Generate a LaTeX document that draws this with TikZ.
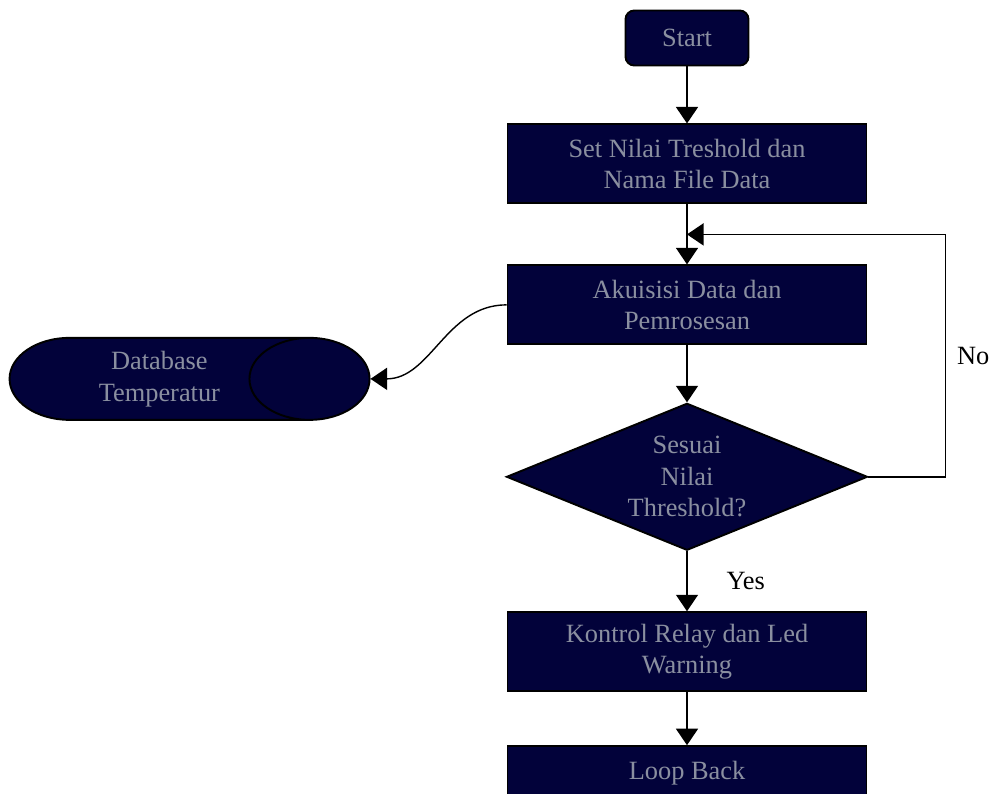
\documentclass[tikz,border=0pt]{standalone}
\usepackage{fontspec}
\setmainfont{Liberation Serif}
\usetikzlibrary{arrows.meta,positioning,shapes.geometric,calc}
\definecolor{navy}{HTML}{02023A}
\definecolor{teks}{HTML}{8A8FA0}

\begin{document}
\begin{tikzpicture}[
  node distance=12mm,
  box/.style={draw=black,fill=navy,line width=1.1pt,minimum width=7.18cm,minimum height=1.58cm,
              inner sep=2pt,align=center,text=teks,font=\fontsize{15}{18}\selectfont},
  arr/.style={-{Triangle[length=3.3mm,width=4.4mm]},draw=black,line width=0.8pt},
  lbl/.style={font=\fontsize{15}{18}\selectfont}
]
\useasboundingbox (0,0) rectangle (19.94,-15.88);
\node[box,rounded corners=5pt,minimum width=2.46cm,minimum height=1.1cm] (start) at (13.74,-0.76) {Start};
\node[box,below=11.4mm of start] (set) {Set Nilai Treshold dan\\Nama File Data};
\node[box,below=12mm of set] (akuisisi) {Akuisisi Data dan\\Pemrosesan};
\node[box,diamond,aspect=2.45,inner sep=0pt,minimum width=7.22cm,minimum height=2.94cm,
      below=11.4mm of akuisisi] (sesuai) {Sesuai\\Nilai\\Threshold?};
\node[box,below=12mm of sesuai] (kontrol) {Kontrol Relay dan Led\\Warning};
\node[box,minimum height=1.08cm,below=10.6mm of kontrol] (loop) {Loop Back};
% silinder: lebar/tinggi minimum mengikuti bentuk sebelum diputar
\node[box,cylinder,aspect=1.92,minimum width=1.64cm,minimum height=7.2cm,
      left=27.2mm of akuisisi,yshift=-14.8mm] (db)
      {\hspace*{5mm}Database\\\hspace*{5mm}Temperatur};

\draw[arr] (start) -- (set);
\draw[arr] (set) -- (akuisisi);
\draw[arr] (akuisisi) -- (sesuai);
\draw[arr] (sesuai) -- node[lbl,right=6.6mm] {Yes} (kontrol);
\draw[arr] (kontrol) -- (loop);
\coordinate (balik) at ($(set.south)!0.5!(akuisisi.north)$);
\draw[arr] (sesuai.east) -- ++(1.54,0) |- node[lbl,pos=0.25,right=1mm] {No} (balik);
\draw[arr] (akuisisi.west) to[out=180,in=0] (db.east);
\end{tikzpicture}
\end{document}
